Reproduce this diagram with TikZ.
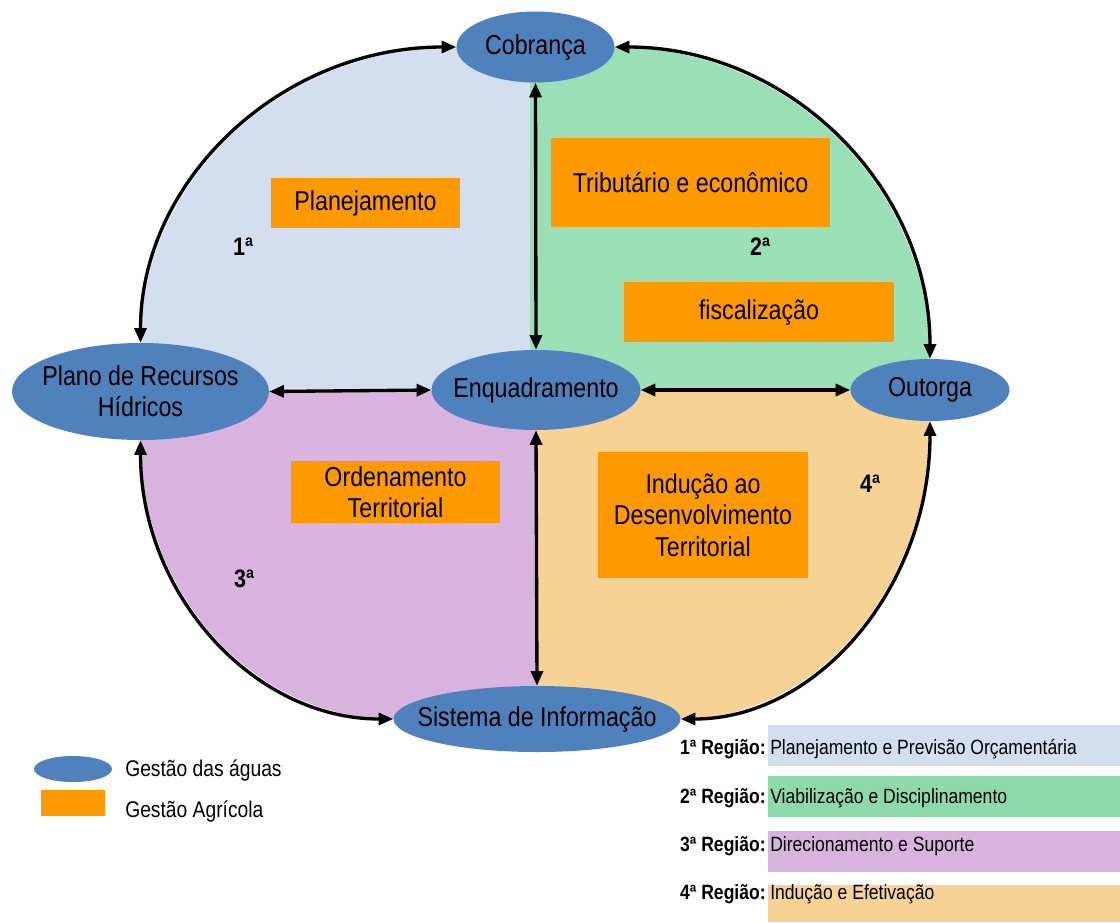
\documentclass[tikz,border=0pt]{standalone}
\usepackage{fontspec}
\setmainfont{Liberation Sans}[FakeStretch=0.85]
\usetikzlibrary{arrows.meta,calc,backgrounds,shapes.geometric}

\definecolor{nodeblue}{HTML}{4F81BD}
\definecolor{boxorange}{HTML}{FF9900}
\definecolor{regblue}{HTML}{D3DFEE}
\definecolor{reggreen}{HTML}{9ADFB6}
\definecolor{regpurple}{HTML}{D8B3DD}
\definecolor{regpeach}{HTML}{F6D394}
\definecolor{leggreen}{HTML}{8DD9A9}

\begin{document}
\begin{tikzpicture}[x=0.75pt,y=-0.75pt,
  water/.style={ellipse, fill=nodeblue, inner xsep=-60pt, inner ysep=-20pt, font=\fontsize{20.5}{23.5}\selectfont, align=center},
  agri/.style={rectangle, fill=boxorange, inner sep=0pt, font=\fontsize{20.5}{23.5}\selectfont, align=center},
  link/.style={line width=2.5pt, {Triangle[length=11pt,width=9pt]}-{Triangle[length=11pt,width=9pt]}},
  quarter/.style={to path={.. controls ($(\tikztostart)!0.5523!(\tikztostart |- \tikztotarget)$) and ($(\tikztotarget)!0.5523!(\tikztostart |- \tikztotarget)$) .. (\tikztotarget)}},
  regnum/.style={font=\fontsize{19}{21}\selectfont\bfseries, anchor=base, inner sep=0pt},
  leglab/.style={font=\fontsize{15.5}{18}\selectfont\bfseries, anchor=base east, inner sep=0pt},
  legtxt/.style={font=\fontsize{15.5}{18}\selectfont, anchor=base west, inner sep=0pt},
  keytxt/.style={font=\fontsize{17}{20}\selectfont, anchor=base west, inner sep=0pt}
]
% main nodes
\node[water, minimum width=118.5pt, minimum height=53.25pt] (cob) at (535.5,47) {Cobrança};
\node[water, minimum width=192.75pt, minimum height=72.75pt] (plano) at (140.5,391.5) {Plano de Recursos\\Hídricos};
\node[water, minimum width=156.75pt, minimum height=60pt] (enq) at (536,390) {Enquadramento};
\node[water, minimum width=119.25pt, minimum height=46.5pt] (out) at (930,390) {Outorga};
\node[water, minimum width=215.25pt, minimum height=49.5pt] (sis) at (537,719) {Sistema de Informação};

% region fills
\begin{scope}[on background layer]
  \fill[white] (0,0) rectangle (1120,922);
  \fill[regblue] (plano.north) to[quarter] (cob.west) -- (530,47) -- (530,391) -- (140.5,391) -- cycle;
  \fill[reggreen] (out.north) to[quarter] (cob.east) -- (530,47) -- (530,391) -- (930,391) -- cycle;
  \fill[regpurple] (plano.south) to[quarter] (sis.west) -- (537,719) -- (537,391) -- (140.5,391) -- cycle;
  \fill[regpeach] (out.south) to[quarter] (sis.east) -- (537,719) -- (537,391) -- (930,391) -- cycle;
\end{scope}

% agricultural boxes
\node[agri, minimum width=141.75pt, minimum height=37.5pt] (plan) at (365.5,203) {Planejamento};
\node[agri, minimum width=209.25pt, minimum height=66.75pt] (trib) at (690.5,182.5) {Tributário e econômico};
\node[agri, minimum width=202.5pt, minimum height=45pt] (fisc) at (759,312) {fiscalização};
\node[agri, minimum width=156.75pt, minimum height=46.5pt] (ord) at (395.5,492) {Ordenamento\\Territorial};
\node[agri, minimum width=157.5pt, minimum height=94.5pt] (ind) at (703,515) {Indução ao\\Desenvolvimento\\Territorial};

% region numbers
\node[regnum] (n1) at (243,255) {1ª};
\node[regnum] (n2) at (760,255) {2ª};
\node[regnum] (n3) at (244,587) {3ª};
\node[regnum] (n4) at (870,492) {4ª};

% connectors
\draw[link] (cob.south) -- (enq.north);
\draw[link] (enq.south) -- (sis.north);
\draw[link] (plano.east) -- (enq.west);
\draw[link] (enq.east) -- (out.west);
\draw[link] (plano.north) to[quarter] (cob.west);
\draw[link] (out.north) to[quarter] (cob.east);
\draw[link] (plano.south) to[quarter] (sis.west);
\draw[link] (out.south) to[quarter] (sis.east);

% left key
\node[water, minimum width=58.5pt, minimum height=19.5pt] (kw) at (73,769) {};
\node[rectangle, fill=boxorange, minimum width=48pt, minimum height=19.5pt, inner sep=0pt] (ka) at (73,803) {};
\node[keytxt] (kwt) at (125,776) {Gestão das águas};
\node[keytxt] (kat) at (125,817) {Gestão Agrícola};

% right legend
\fill[regblue] (768,725) rectangle (1120,766);
\fill[leggreen] (768,776) rectangle (1120,817);
\fill[regpurple] (768,831) rectangle (1120,872);
\fill[regpeach] (768,885) rectangle (1120,922);
\node[leglab] (l1) at (766,754) {1ª Região:};
\node[legtxt] (t1) at (770,754) {Planejamento e Previsão Orçamentária};
\node[leglab] (l2) at (766,803) {2ª Região:};
\node[legtxt] (t2) at (770,803) {Viabilização e Disciplinamento};
\node[leglab] (l3) at (766,851) {3ª Região:};
\node[legtxt] (t3) at (770,851) {Direcionamento e Suporte};
\node[leglab] (l4) at (766,899) {4ª Região:};
\node[legtxt] (t4) at (770,899) {Indução e Efetivação};
\end{tikzpicture}
\end{document}
